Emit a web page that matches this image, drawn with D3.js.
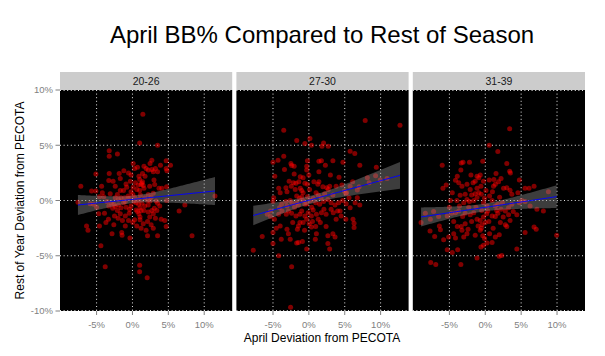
<!DOCTYPE html>
<html><head><meta charset="utf-8">
<script src="https://cdnjs.cloudflare.com/ajax/libs/d3/7.8.5/d3.min.js"></script>
<style>body{margin:0;background:#fff}svg{display:block;font-family:"Liberation Sans",Arial,sans-serif}</style>
</head><body><svg id="c" width="605" height="356"></svg>
<script>
const title = "April BB% Compared to Rest of Season";
const xTitle = "April Deviation from PECOTA";
const yTitle = "Rest of Year Deviation from PECOTA";
const categories = ["20-26", "27-30", "31-39"];
const xTicks = [-5, 0, 5, 10];
const xTickLabels = ["-5%", "0%", "5%", "10%"];
const yTicks = [-10, -5, 0, 5, 10];
const yTickLabels = ["-10%", "-5%", "0%", "5%", "10%"];

// April deviation (x, %) and rest-of-year deviation (y, %) per age group
const group1 = [
[1.45,7.8],[-3.8,-6.0],[1.0,-5.85],[1.0,-6.45],[2.05,-7.0],[11.5,0.4],[-7.6,-0.15],
[1.0,5.2],[3.5,5.0],[-3.24,4.5],[-3.24,4.0],[-2.1,4.2],[0.1,3.35],[2.7,3.65],[2.45,3.35],
[4.7,3.6],[5.3,3.2],[3.9,3.2],[1.6,3.1],[0.7,3.0],[3.2,2.9],[3.5,2.6],[2.9,2.6],[2.2,2.75],
[2.7,2.8],[4.8,2.7],[4.7,2.9],[-3.24,2.45],[-1.85,2.45],[-0.55,2.5],[-0.2,2.3],[-5.1,2.4],
[1.4,2.45],[1.75,2.2],[-3.3,1.8],[-2.7,1.75],[-1.7,2.0],[-0.9,1.5],[-0.3,1.75],[0.4,1.6],
[1.2,1.45],[1.4,1.7],[1.3,1.55],[3.0,1.85],[3.1,1.45],[4.1,1.1],[3.7,1.1],[4.75,1.25],
[-7.2,1.3],[-5.7,0.85],[-5.1,0.85],[-4.2,0.7],[-2.4,1.3],[-1.7,0.9],[-1.25,0.9],[-0.2,0.8],
[0.05,0.55],[2.2,0.55],[2.9,0.65],[1.7,0.25],[2.1,0.0],[-4.6,0.35],[-4.0,0.35],[-2.4,0.25],
[-1.95,0.1],[-1.6,0.25],[-1.1,0.25],[-0.45,0.2],[-5.9,-0.3],[-5.4,-0.35],[-3.55,-0.1],
[-2.95,-0.25],[-2.6,-0.35],[-1.95,-0.4],[-1.25,-0.2],[0.5,-0.2],[0.85,-0.35],[1.3,-0.25],
[2.45,-0.05],[3.3,-0.05],[3.5,-0.25],[4.75,0.0],[0.5,-0.85],[1.05,-0.65],[1.2,-0.9],
[3.05,-0.7],[2.7,-0.9],[-1.6,-0.65],[-0.9,-0.6],[-2.75,-0.7],[-2.4,-0.55],[-4.7,-1.2],
[-3.9,-1.15],[-1.7,-1.2],[-1.0,-1.4],[-0.45,-1.15],[0.9,-1.2],[1.05,-1.5],[2.2,-1.05],
[2.9,-1.2],[3.4,-0.9],[6.5,-0.95],[7.3,-0.4],[-3.35,-1.7],[-2.5,-1.4],[-1.4,-1.8],
[-0.55,-1.8],[0.05,-2.0],[0.3,-1.75],[1.05,-1.75],[1.5,-2.1],[2.1,-1.9],[2.6,-2.2],
[4.0,-1.7],[4.5,-1.8],[4.7,-2.35],[1.2,-2.5],[2.9,-2.5],[-6.4,-2.3],[-6.2,-2.7],[-4.6,-2.3],
[-2.6,-2.2],[-2.85,-3.0],[-1.5,-2.9],[-1.45,-3.15],[-0.35,-3.4],[2.1,-3.2],[3.5,-3.2],
[8.3,-3.2],[-4.4,-4.1],
[-1.2,2.7],[0.3,2.9],[1.9,2.9],[0.9,2.2],[-0.8,1.2],[0.6,1.0],[1.0,0.9],[1.6,1.1],[2.4,1.3],
[-0.6,0.4],[0.3,0.3],[0.9,0.1],[1.1,0.5],[2.6,0.3],[-3.1,0.6],[-2.1,0.55],[-1.0,-0.1],
[-0.2,-0.5],[0.2,-0.1],[1.7,-0.5],[2.2,-0.4],[3.8,-0.5],[-3.3,-0.5],[-2.1,-0.9],[-0.4,-0.8],
[0.7,-1.0],[1.6,-0.9],[2.4,-1.5],[-1.0,-2.3],[0.6,-2.3],[1.9,-2.7],[-2.0,-1.6],[-3.7,-2.0],
[3.2,-1.6],[0.1,1.2],[1.0,1.9],[1.5,1.35],[0.8,1.4],[-5.0,-0.6],[-4.3,1.3]
];
const group2 = [
[7.85,7.25],[12.7,6.8],[-3.5,6.35],[0.15,5.6],[-1.69,5.42],[-0.55,5.15],[0.37,5.0],[2.05,5.2],
[1.83,4.9],[2.7,4.9],[-3.5,4.0],[-5.0,3.47],[-4.3,3.65],[-2.5,3.35],[-2.4,3.17],[-2.05,3.1],
[-0.2,3.6],[-0.3,3.1],[-0.3,2.75],[1.4,3.55],[1.75,3.6],[2.3,3.2],[1.4,2.6],[3.35,3.6],
[4.75,3.47],[5.75,4.45],[6.4,4.25],[7.1,3.2],[9.4,3.0],[-4.75,2.2],[-2.05,2.4],[-1.2,2.15],
[-0.8,2.05],[-2.75,1.75],[-2.15,1.6],[-1.8,1.55],[-1.4,1.7],[-0.55,1.55],[-0.2,1.47],
[-4.2,1.1],[-4.0,0.7],[-3.2,1.15],[-2.45,1.3],[-3.05,0.8],[-1.9,1.0],[-1.2,1.1],[-0.8,0.7],
[0.7,1.7],[1.25,1.47],[1.4,1.7],[1.95,1.25],[2.5,1.15],[2.9,1.3],[2.7,1.0],[3.8,1.3],
[4.6,1.4],[5.25,0.7],[4.95,0.85],[5.75,1.3],[6.1,1.7],[6.75,0.95],[7.0,1.25],[8.15,2.05],
[8.4,1.6],[9.3,2.25],[10.9,2.0],[9.95,1.85],[-5.0,-0.1],[-4.9,0.25],[-4.1,-0.65],[-3.8,-0.35],
[-3.2,-0.1],[-2.6,0.0],[-2.35,-0.25],[-3.05,-0.5],[-1.7,0.4],[-1.3,0.2],[-1.7,-0.2],
[-1.45,-0.4],[-1.0,0.35],[-0.8,0.0],[-0.55,-0.35],[-0.2,0.35],[0.25,0.0],[0.6,0.2],
[0.95,-0.2],[1.3,0.5],[1.7,0.25],[2.05,-0.1],[1.5,-0.35],[2.65,0.1],[3.1,-0.2],[3.35,0.5],
[3.65,-0.4],[4.15,-0.2],[4.35,-0.95],[4.7,0.0],[5.15,0.65],[5.6,0.25],[6.45,-0.2],
[6.75,0.25],[7.1,-0.4],[5.75,-0.65],[-5.35,-0.95],[-5.8,-1.25],[-5.35,-1.45],[-4.8,-1.7],
[-4.2,-1.25],[-3.75,-0.95],[-3.15,-1.25],[-2.85,-0.95],[-2.4,-1.15],[-1.8,-1.4],
[-1.25,-1.25],[-1.0,-0.95],[-0.55,-1.4],[-0.1,-1.1],[0.35,-1.4],[0.6,-0.85],[1.05,-1.25],
[1.3,-1.7],[1.75,-1.1],[2.1,-0.8],[2.4,-1.25],[3.1,-0.8],[3.4,-1.1],[4.0,-0.95],[4.5,-1.4],
[-6.5,-3.25],[-7.75,-4.5],[-5.0,-2.9],[-4.55,-2.5],[-4.0,-2.3],[-3.05,-2.6],[-2.85,-3.0],
[-2.6,-3.5],[-3.85,-3.5],[-2.25,-2.0],[-1.45,-2.3],[-1.25,-2.0],[-0.8,-2.0],[-0.3,-1.7],
[0.05,-2.1],[0.35,-2.4],[0.95,-2.35],[1.05,-3.0],[0.9,-3.5],[-1.45,-3.8],[-0.9,-3.7],
[-1.7,-3.85],[-0.3,-4.4],[-5.0,-3.9],[2.4,-2.35],[2.65,-3.2],[3.35,-3.0],[3.65,-3.3],
[2.65,-3.9],[2.9,-4.4],[6.3,-2.45],[6.3,-2.05],[6.15,-1.7],[5.15,-1.7],[3.8,-1.7],
[-4.2,-5.0],[-2.4,-6.0],[-2.55,-9.65],
[-1.0,0.9],[0.1,1.0],[0.4,-0.6],[-0.3,-0.3],[1.0,0.7],[2.2,0.6],[-2.0,-0.6],[-1.6,-2.6],
[0.5,-1.9],[-0.6,-2.7],[1.6,-2.0],[0.0,2.3],[-3.4,2.8],[3.0,2.3],[4.2,2.1],[5.2,-0.3]
];
const group3 = [
[3.4,6.5],[0.55,5.0],[1.75,4.43],[-6.0,3.2],[-3.35,3.4],[-3.1,3.47],[-2.2,3.47],[-3.4,2.75],
[-0.35,3.55],[3.0,3.35],[3.5,2.5],[3.4,2.65],[1.5,2.45],[-0.7,2.3],[-0.9,2.05],[-1.15,2.2],
[-1.7,1.6],[-1.4,1.75],[-0.25,1.75],[0.55,1.85],[1.85,1.7],[1.4,1.47],[1.15,1.3],[2.55,1.1],
[3.0,1.15],[3.45,0.93],[4.75,1.85],[4.55,0.7],[3.7,0.57],[5.55,1.1],[6.1,1.1],[6.8,1.3],
[8.8,0.8],[-5.45,1.4],[-5.9,1.1],[-4.15,1.83],[-3.7,1.6],[-3.25,1.3],[-2.55,1.47],[-2.1,1.0],
[-1.15,1.1],[-0.9,0.7],[-0.55,0.57],[-4.6,0.7],[-3.5,0.48],[-2.8,0.57],[-2.55,0.1],
[-4.85,0.0],[-3.95,0.0],[-3.0,-0.2],[-1.6,0.0],[-1.15,0.27],[-0.25,-0.2],[0.25,-0.5],
[0.95,0.0],[1.4,-0.5],[1.75,-0.35],[2.2,-0.8],[2.8,-0.95],[3.25,-0.65],[3.7,-0.35],
[4.75,-0.2],[5.1,0.0],[5.55,-0.1],[6.25,-0.5],[7.2,-0.8],[8.1,-0.95],[-8.35,-1.15],
[-7.2,-1.0],[-7.65,-1.7],[-6.5,-1.45],[-6.4,-2.3],[-5.3,-1.4],[-4.7,-1.15],[-4.15,-1.1],
[-3.7,-0.95],[-3.15,-1.45],[-2.8,-1.15],[-2.1,-1.3],[-1.6,-1.1],[-1.15,-1.7],[-0.7,-1.8],
[-0.25,-1.5],[0.35,-0.95],[0.95,-1.4],[1.4,-1.45],[1.75,-1.15],[2.1,-2.0],[3.25,-1.3],
[3.45,-1.8],[3.0,-2.35],[2.8,-2.2],[4.4,-1.3],[5.55,-2.9],[6.8,-2.4],[7.1,-2.6],
[-7.7,-2.75],[-7.05,-3.25],[-5.8,-3.55],[-6.25,-2.65],[-5.1,-3.3],[-4.4,-3.0],[-4.15,-3.4],
[-3.9,-2.35],[-3.35,-2.35],[-2.8,-2.1],[-3.25,-2.7],[-3.0,-3.3],[-2.55,-3.0],[-1.4,-3.15],
[-0.7,-2.7],[-0.45,-2.2],[0.0,-2.0],[-0.55,-2.5],[-0.35,-3.2],[-0.1,-3.45],[0.25,-3.85],
[0.95,-3.8],[1.4,-3.3],[1.95,-3.1],[-0.6,-4.2],[-0.25,-4.05],[-5.3,-4.45],[-3.85,-4.45],
[-4.6,-4.7],[4.4,-4.4],[2.3,-4.97],[1.95,-5.05],[9.95,-3.15],[-1.15,-5.2],[-7.6,-5.6],
[-6.9,-5.8],[-3.4,-5.8],[-8.95,-2.0],
[-2.0,2.3],[-1.9,0.5],[-1.4,0.6],[-0.6,1.3],[0.1,0.9],[0.6,0.4],[1.0,0.8],[2.0,0.3],[2.4,-0.2],
[-3.6,-0.5],[-2.3,-0.6],[-1.9,-1.9],[-1.3,-0.6],[-0.5,-0.9],[0.5,-1.9],[1.1,-2.5],[1.6,-0.9],
[2.5,-1.5],[-4.4,-1.9],[-5.0,-0.6],[-2.4,-2.6],[-1.0,-2.3],[0.6,-3.0],[-0.1,0.2],[1.2,1.9],
[-3.9,2.2],[2.2,2.0],[-2.2,-0.1],[0.2,-1.2],[3.9,-1.0]
];
const groups = [group1, group2, group3];

const svg = d3.select("#c");
const W = 605, H = 356;
const pLeft = 60, pRight = 585, gap = 4.2, pTop = 90, pBottom = 311, stripH = 18;
const pw = (pRight - pLeft - 2 * gap) / 3;
const y = d3.scaleLinear().domain([-10, 10]).range([pBottom, pTop]);
const grey = "#7f7f7f";

svg.append("rect").attr("width", W).attr("height", H).attr("fill", "#fff");

svg.append("text").attr("x", 322).attr("y", 43).attr("text-anchor", "middle")
  .attr("font-size", 24).attr("fill", "#000").text(title);

// t quantile approx for 95% CI
function tq(df){ return 1.96 + 2.4/df; }

groups.forEach((g, i) => {
  const x0 = pLeft + i * (pw + gap);
  const x = d3.scaleLinear().domain([-10.1, 13.9]).range([x0, x0 + pw]);
  const pg = svg.append("g");
  pg.append("rect").attr("x", x0).attr("y", pTop).attr("width", pw).attr("height", pBottom - pTop).attr("fill", "#000");
  const clipId = "clip" + i;
  svg.append("clipPath").attr("id", clipId).append("rect")
    .attr("x", x0).attr("y", pTop).attr("width", pw).attr("height", pBottom - pTop);
  // grid
  pg.selectAll(".gx").data(xTicks).join("line")
    .attr("x1", d => x(d)).attr("x2", d => x(d)).attr("y1", pTop).attr("y2", pBottom)
    .attr("stroke", "#e8e8e8").attr("stroke-width", 1).attr("stroke-dasharray", "1,2.6");
  pg.selectAll(".gy").data(yTicks).join("line")
    .attr("x1", x0).attr("x2", x0 + pw)
    .attr("y1", d => y(d) + (d === 10 ? 0.5 : d === -10 ? -0.5 : 0))
    .attr("y2", d => y(d) + (d === 10 ? 0.5 : d === -10 ? -0.5 : 0))
    .attr("stroke", "#e8e8e8").attr("stroke-width", 1).attr("stroke-dasharray", "1,2.6");
  const cg = pg.append("g").attr("clip-path", `url(#${clipId})`);
  cg.selectAll("circle").data(g).join("circle")
    .attr("cx", d => x(d[0])).attr("cy", d => y(d[1])).attr("r", 2.5)
    .attr("fill", "#ff0000").attr("fill-opacity", 0.5);
  // linear fit with 95% CI
  const n = g.length;
  const mx = d3.mean(g, d => d[0]), my = d3.mean(g, d => d[1]);
  const sxx = d3.sum(g, d => (d[0] - mx) ** 2);
  const sxy = d3.sum(g, d => (d[0] - mx) * (d[1] - my));
  const b = sxy / sxx, a = my - b * mx;
  const s = Math.sqrt(d3.sum(g, d => (d[1] - a - b * d[0]) ** 2) / (n - 2));
  const t = tq(n - 2);
  const [xmin, xmax] = d3.extent(g, d => d[0]);
  const fx = d3.range(0, 81).map(k => xmin + (xmax - xmin) * k / 80);
  const fit = fx.map(v => {
    const se = s * Math.sqrt(1 / n + (v - mx) ** 2 / sxx);
    return { x: v, y: a + b * v, lo: a + b * v - t * se, hi: a + b * v + t * se };
  });
  cg.append("path").datum(fit)
    .attr("d", d3.area().x(d => x(d.x)).y0(d => y(d.lo)).y1(d => y(d.hi)))
    .attr("fill", "#999999").attr("fill-opacity", 0.4);
  cg.append("path").datum(fit)
    .attr("d", d3.line().x(d => x(d.x)).y(d => y(d.y)))
    .attr("fill", "none").attr("stroke", "#0000ff").attr("stroke-width", 1);
  // strip
  svg.append("rect").attr("x", x0).attr("y", pTop - stripH).attr("width", pw).attr("height", stripH).attr("fill", "#cccccc");
  svg.append("text").attr("x", x0 + pw / 2).attr("y", pTop - stripH / 2 + 3.7).attr("text-anchor", "middle")
    .attr("font-size", 10.5).attr("fill", "#1a1a1a").text(categories[i]);
  // x axis ticks
  svg.selectAll(".xt" + i).data(xTicks).join("line")
    .attr("x1", d => x(d)).attr("x2", d => x(d)).attr("y1", pBottom).attr("y2", pBottom + 4)
    .attr("stroke", grey).attr("stroke-width", 1);
  svg.selectAll(".xl" + i).data(xTicks).join("text")
    .attr("x", d => x(d)).attr("y", pBottom + 16.5).attr("text-anchor", "middle")
    .attr("font-size", 9.5).attr("fill", grey).text((d, j) => xTickLabels[j]);
});

// y axis
svg.selectAll(".yt").data(yTicks).join("line")
  .attr("x1", pLeft - 4.5).attr("x2", pLeft).attr("y1", d => y(d)).attr("y2", d => y(d))
  .attr("stroke", grey).attr("stroke-width", 1);
svg.selectAll(".yl").data(yTicks).join("text")
  .attr("x", pLeft - 7).attr("y", d => y(d) + 3.4).attr("text-anchor", "end")
  .attr("font-size", 9.5).attr("fill", grey).text((d, j) => yTickLabels[j]);

svg.append("text").attr("x", 322).attr("y", 341.5).attr("text-anchor", "middle")
  .attr("font-size", 12).attr("fill", "#000").text(xTitle);
svg.append("text").attr("transform", `translate(23.6,${(pTop + pBottom) / 2}) rotate(-90)`)
  .attr("text-anchor", "middle").attr("font-size", 12).attr("fill", "#000").text(yTitle);
</script></body></html>
